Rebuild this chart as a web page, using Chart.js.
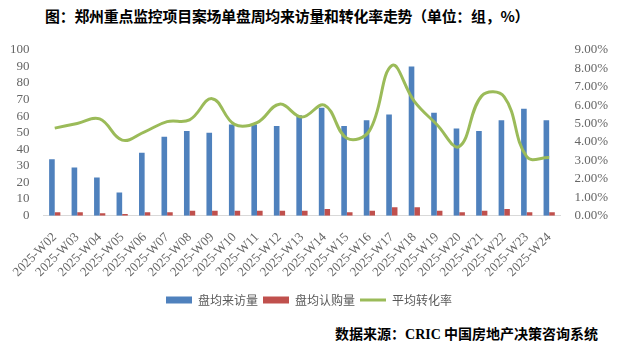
<!DOCTYPE html>
<html>
<head>
<meta charset="utf-8">
<script src="https://cdn.jsdelivr.net/npm/chart.js@4.4.1/dist/chart.umd.min.js"></script>
<style>
  html, body { margin: 0; padding: 0; background: #fff; }
  body { width: 620px; height: 346px; position: relative; overflow: hidden; }
  #title {
    position: absolute; left: 45px; top: 5px; letter-spacing: -0.2px;
    font: bold 14.9px "Noto Sans CJK SC", sans-serif; color: #000; white-space: nowrap;
  }
  #wrap { position: absolute; left: 0; top: 36px; width: 620px; height: 280px; }
  #source {
    position: absolute; right: 22px; top: 323px;
    font: bold 14px "Noto Sans CJK SC", sans-serif; color: #000; white-space: nowrap;
  }
  #source span { font-family: "Liberation Serif", serif; }
</style>
</head>
<body>
<div id="title">图：郑州重点监控项目案场单盘周均来访量和转化率走势（单位：组，%）</div>
<div id="wrap"><canvas id="chart"></canvas></div>
<div id="source">数据来源：<span>CRIC</span> 中国房地产决策咨询系统</div>
<script>
// --- data ---
const weeks = ['2025-W02', '2025-W03', '2025-W04', '2025-W05', '2025-W06', '2025-W07', '2025-W08',
  '2025-W09', '2025-W10', '2025-W11', '2025-W12', '2025-W13', '2025-W14', '2025-W15', '2025-W16',
  '2025-W17', '2025-W18', '2025-W19', '2025-W20', '2025-W21', '2025-W22', '2025-W23', '2025-W24'];
const visits = [34, 29, 23, 14, 38, 47.5, 51, 50, 55, 55, 54, 60.5, 65, 54, 57.5, 61, 90, 62, 52.5, 51, 57.5, 64.5, 57.5];
const purchases = [2, 2, 1.5, 1, 2, 2, 3, 3, 3, 3, 3, 3, 4, 2, 3, 5, 5, 3, 2, 3, 4, 2, 2];
const convRate = [4.75, 5.0, 5.25, 4.1, 4.55, 5.1, 5.2, 6.35, 4.95, 5.05, 6.05, 5.35, 6.0, 4.2, 4.6, 8.15, 6.2, 4.95, 3.75, 6.5, 6.45, 3.2, 3.15];

const tickFont = { family: 'Liberation Serif', size: 13 };
const tickColor = '#666666';

function init() {
    const ctx = document.getElementById('chart').getContext('2d');
    new Chart(ctx, {
        type: 'bar',
        data: {
            labels: weeks,
            datasets: [
                {
                    label: '盘均来访量',
                    data: visits,
                    backgroundColor: '#4F81BD',
                    yAxisID: 'y',
                    pointStyle: 'rect',
                    order: 2
                },
                {
                    label: '盘均认购量',
                    data: purchases,
                    backgroundColor: '#C0504D',
                    yAxisID: 'y',
                    pointStyle: 'rect',
                    order: 2
                },
                {
                    type: 'line',
                    label: '平均转化率',
                    data: convRate,
                    borderColor: '#9BBB59',
                    backgroundColor: '#9BBB59',
                    borderWidth: 3,
                    pointRadius: 0,
                    pointStyle: 'line',
                    tension: 0.4,
                    yAxisID: 'y1',
                    order: 1
                }
            ]
        },
        options: {
            responsive: true,
            maintainAspectRatio: false,
            animation: false,
            categoryPercentage: 0.5,
            barPercentage: 1,
            layout: { padding: { left: 4, right: 6, top: 6, bottom: 0 } },
            scales: {
                x: {
                    grid: { display: false },
                    border: { display: true, color: '#D9D9D9', width: 1 },
                    ticks: { color: tickColor, font: tickFont, minRotation: 45, maxRotation: 45, padding: 6, autoSkip: false },
                    afterFit: scale => { scale.height += 3; }
                },
                y: {
                    position: 'left',
                    min: 0, max: 100,
                    grid: { display: false },
                    border: { display: false },
                    ticks: { stepSize: 10, color: tickColor, font: tickFont, padding: 6, autoSkip: false }
                },
                y1: {
                    position: 'right',
                    min: 0, max: 9,
                    grid: { display: false },
                    border: { display: false },
                    ticks: {
                        stepSize: 1, color: tickColor, font: tickFont, padding: 6, autoSkip: false,
                        callback: v => v.toFixed(2) + '%'
                    }
                }
            },
            plugins: {
                legend: {
                    position: 'bottom',
                    labels: {
                        usePointStyle: true,
                        pointStyleWidth: 26,
                        boxHeight: 7,
                        padding: 5,
                        color: '#595959',
                        font: { family: 'Noto Sans CJK SC', size: 12 },
                        sort: (a, b) => a.datasetIndex - b.datasetIndex
                    }
                },
                tooltip: { enabled: false }
            }
        }
    });
}

window.onload = init;
</script>
</body>
</html>
